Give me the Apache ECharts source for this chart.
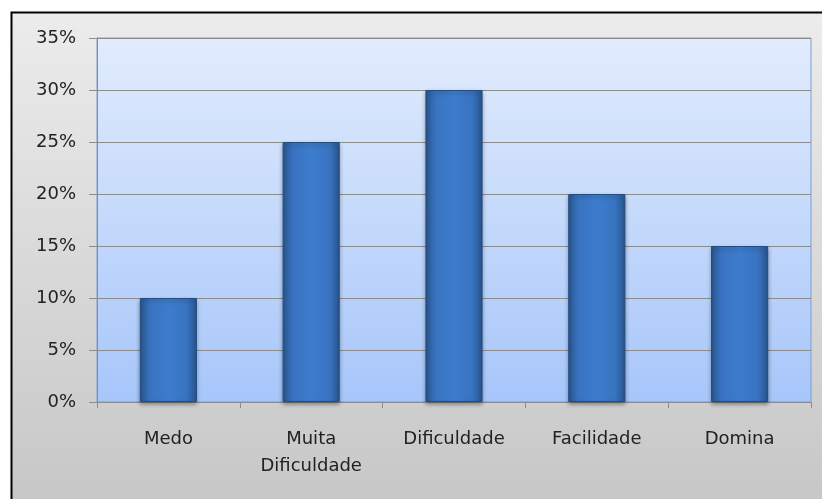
<!DOCTYPE html>
<html>
<head>
<meta charset="utf-8">
<script src="https://cdn.jsdelivr.net/npm/echarts@6/dist/echarts.min.js"></script>
<style>
  html, body { margin: 0; padding: 0; background: #fff; }
  #main { width: 822px; height: 499px; }
</style>
</head>
<body>
<div id="main"></div>
<script>
var categories = ['Medo', 'Muita\nDificuldade', 'Dificuldade', 'Facilidade', 'Domina'];
var values = [10, 25, 30, 20, 15];

var chart = echarts.init(document.getElementById('main'));

// horizontal shading so the bars look rounded, like the original
var barColor = new echarts.graphic.LinearGradient(0, 0, 1, 0, [
  { offset: 0, color: '#29568f' },
  { offset: 0.18, color: '#3873c0' },
  { offset: 0.5, color: '#3d7ccd' },
  { offset: 0.82, color: '#3873c0' },
  { offset: 1, color: '#29568f' }
]);

var option = {
  animation: false,
  graphic: [{
    type: 'rect',
    z: -10,
    shape: { x: 11.5, y: 12.5, width: 830, height: 500 },
    style: {
      fill: new echarts.graphic.LinearGradient(0, 0, 0, 1, [
        { offset: 0, color: '#ececec' },
        { offset: 1, color: '#c6c6c6' }
      ]),
      stroke: '#000',
      lineWidth: 2
    }
  }],
  grid: {
    left: 97, right: 11, top: 38, bottom: 97,
    show: true,
    borderColor: '#7d9fcf',
    borderWidth: 1,
    backgroundColor: new echarts.graphic.LinearGradient(0, 0, 0, 1, [
      { offset: 0, color: '#e1ecfd' },
      { offset: 1, color: '#a7c6fa' }
    ])
  },
  xAxis: {
    type: 'category',
    data: categories,
    axisLine: { lineStyle: { color: '#8c8c8c', width: 1 } },
    axisTick: { show: true, length: 6, lineStyle: { color: '#8c8c8c' } },
    axisLabel: {
      color: '#222',
      fontFamily: 'DejaVu Sans',
      fontSize: 18,
      margin: 24,
      lineHeight: 27
    }
  },
  yAxis: {
    type: 'value',
    min: 0,
    max: 35,
    interval: 5,
    axisLine: { show: true, lineStyle: { color: '#8c8c8c' } },
    axisTick: { show: true, length: 8, lineStyle: { color: '#8c8c8c' } },
    splitLine: { lineStyle: { color: '#8c8c8c', width: 1 } },
    axisLabel: {
      formatter: '{value}%',
      color: '#222',
      fontFamily: 'DejaVu Sans',
      fontSize: 18,
      margin: 21
    }
  },
  series: [{
    type: 'bar',
    data: values,
    barWidth: '40%',
    itemStyle: {
      color: barColor,
      borderColor: '#234d80',
      borderWidth: 1,
      shadowColor: 'rgba(0,0,0,0.35)',
      shadowBlur: 4,
      shadowOffsetY: 2
    }
  }]
};

chart.setOption(option);
</script>
</body>
</html>
